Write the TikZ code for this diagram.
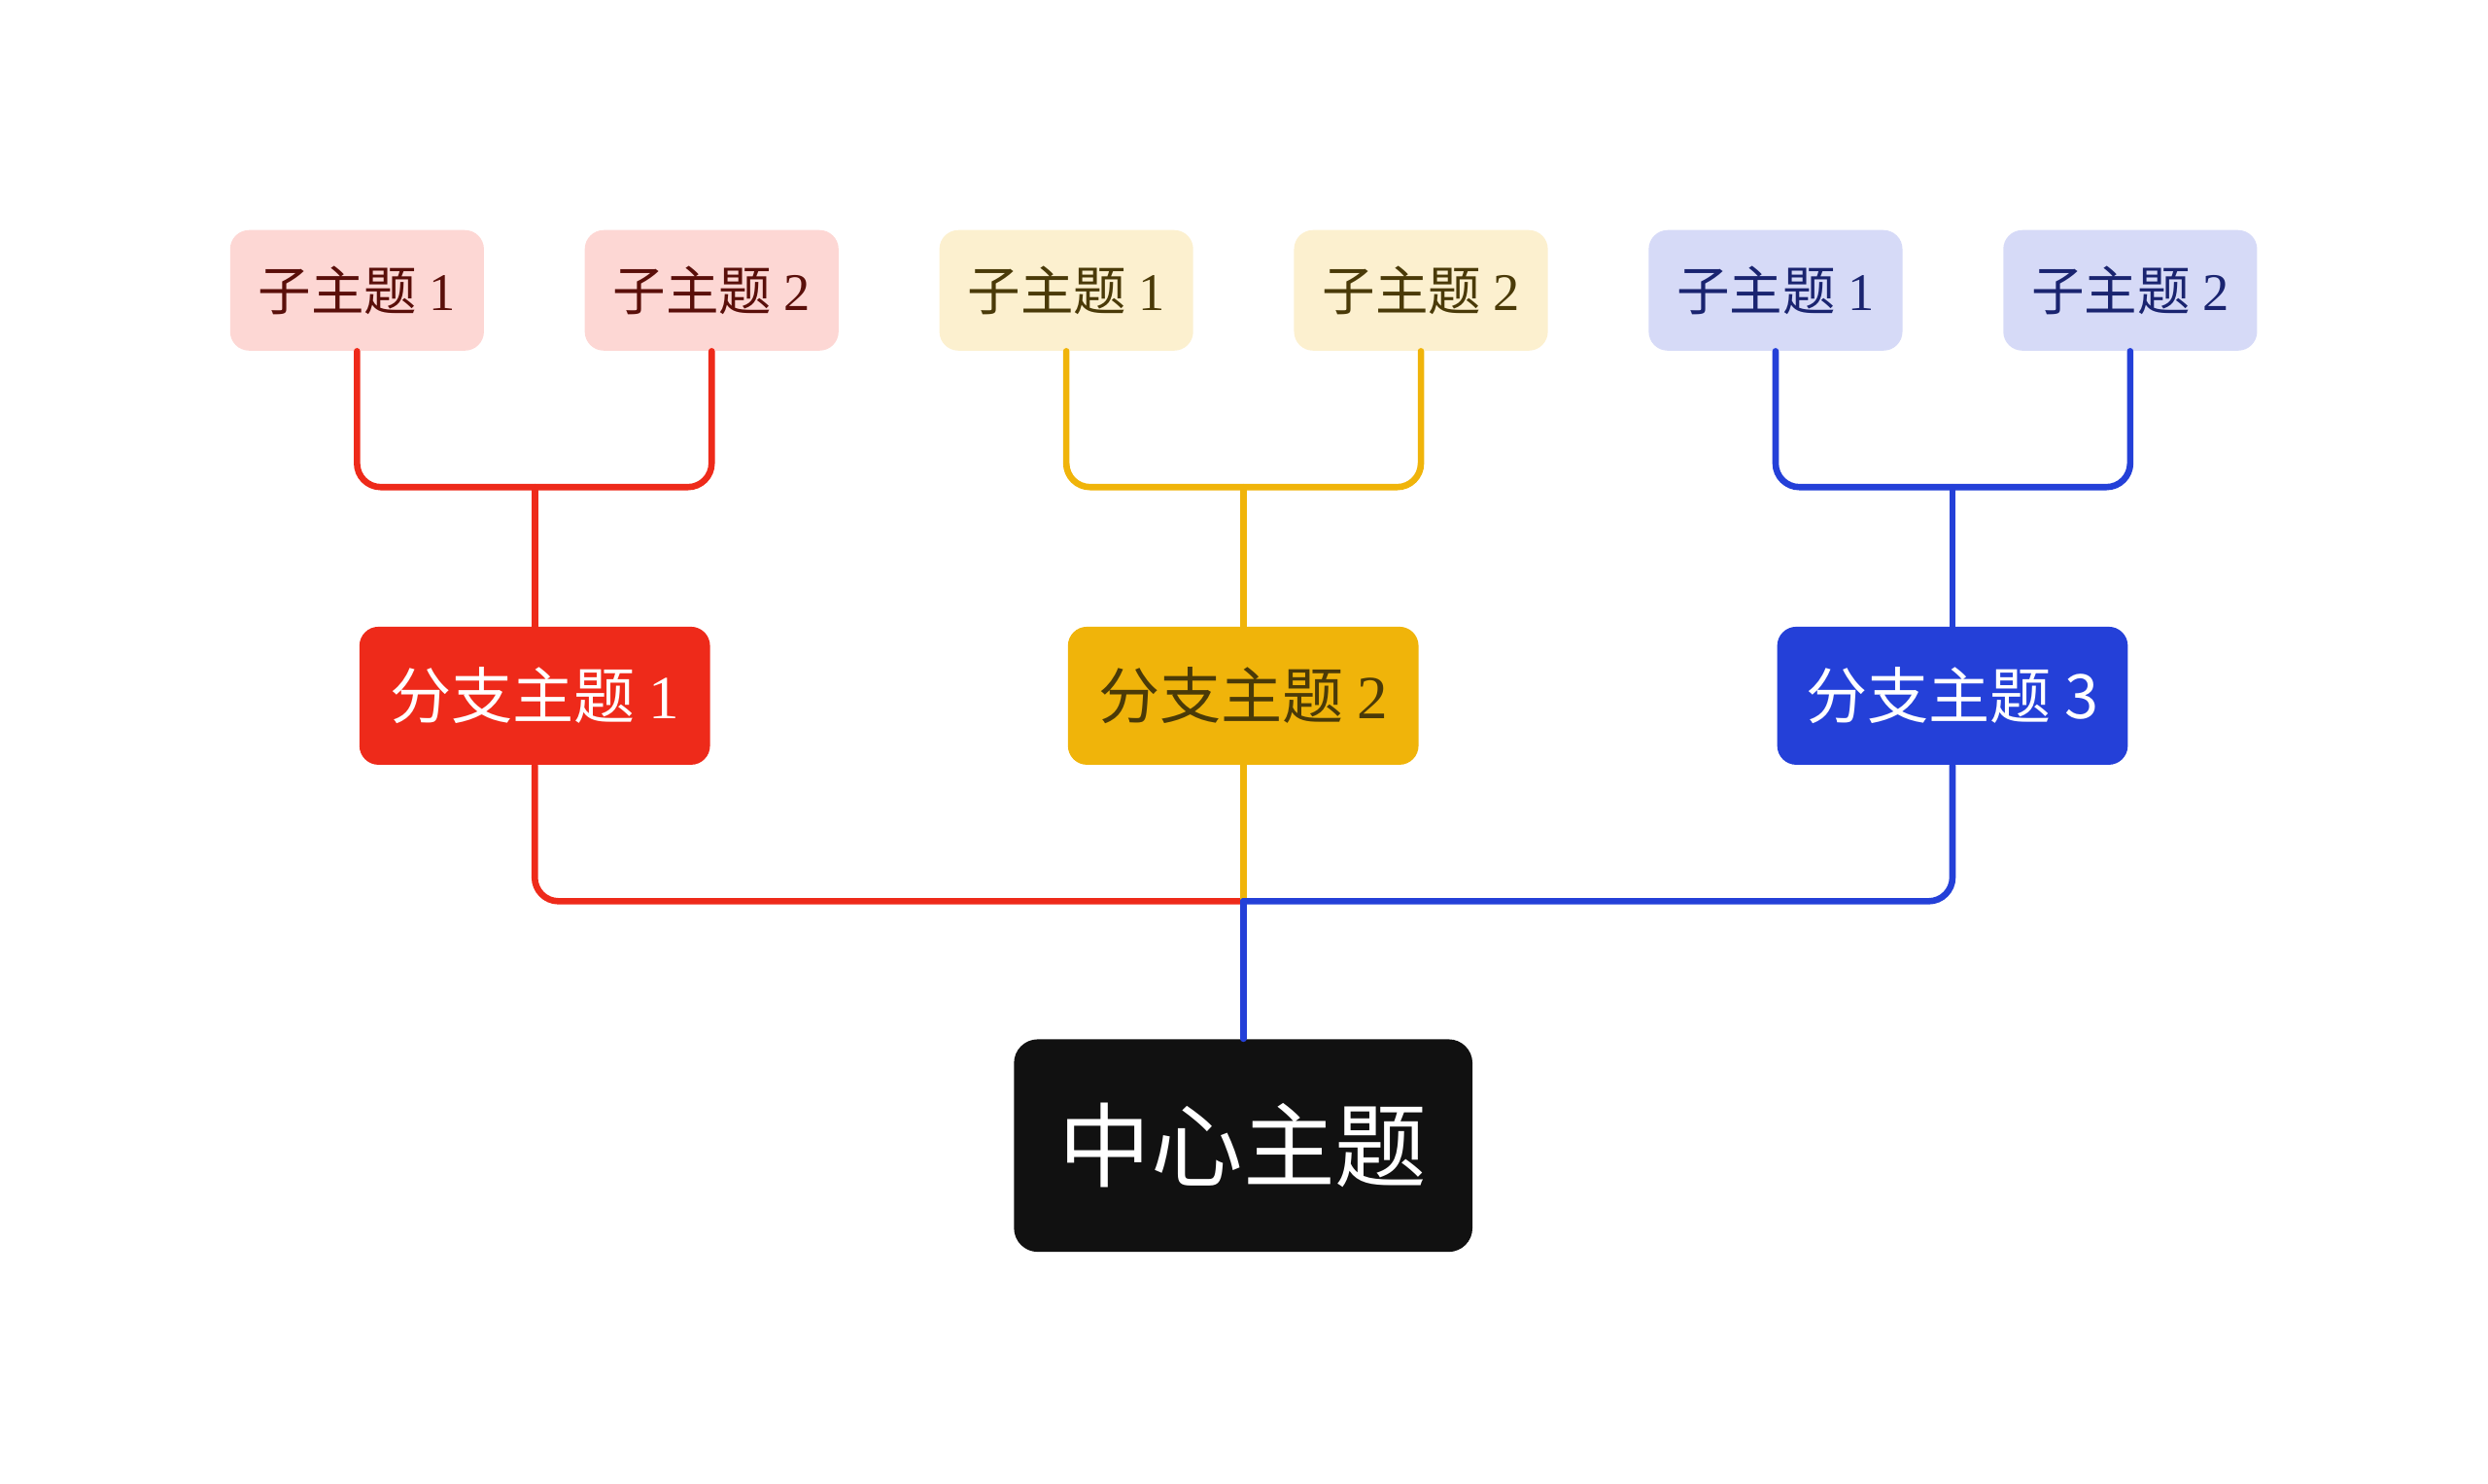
\documentclass[tikz,border=0pt]{standalone}
\usepackage{fontspec}
\usepackage{tikz}
\usetikzlibrary{positioning, calc}
\setmainfont{Noto Sans CJK SC}
\newfontfamily\cjk{Noto Sans CJK SC}
\newfontfamily\numfont{Liberation Serif}

\definecolor{redmain}{HTML}{EE2A1A}
\definecolor{redlight}{HTML}{FDD7D4}
\definecolor{redtext}{HTML}{5A0F0A}
\definecolor{yelmain}{HTML}{F0B40A}
\definecolor{yellight}{HTML}{FCF0CF}
\definecolor{yeltext}{HTML}{4A3A08}
\definecolor{blumain}{HTML}{2440D8}
\definecolor{blulight}{HTML}{D6DAF7}
\definecolor{blutext}{HTML}{1A2470}
\definecolor{centre}{HTML}{111111}

\tikzset{
  subbox/.style={rounded corners=0.24cm, minimum width=3.2cm, minimum height=1.52cm,
    inner sep=0pt, font=\fontsize{19pt}{21pt}\selectfont},
  branchbox/.style={rounded corners=0.24cm, minimum width=4.42cm, minimum height=1.74cm,
    inner sep=0pt, text=white, font=\fontsize{22pt}{24pt}\selectfont},
  centrebox/.style={rounded corners=0.3cm, fill=centre, minimum width=5.78cm,
    minimum height=2.68cm, inner sep=0pt, text=white, font=\fontsize{33pt}{35pt}\selectfont},
  link/.style={line width=2.3pt, rounded corners=0.3cm}
}

\begin{document}
\begin{tikzpicture}[x=0.02cm,y=-0.02cm,line cap=round]
  \useasboundingbox (0,0) rectangle (1568,935);

  % --- Centro ---
  \node[centrebox] (c) at (783.5,722) {中心主题};

  % --- Rami principali ---
  \node[branchbox, fill=redmain] (b1) at (337,438.5) {分支主题 {\numfont 1}};
  \node[branchbox, fill=yelmain, text=yeltext] (b2) at (783.5,438.5) {分支主题 {\numfont 2}};
  \node[branchbox, fill=blumain] (b3) at (1230.5,438.5) {分支主题 3};

  % --- Sottotemi ---
  \node[subbox, fill=redlight, text=redtext] (s11) at (225,183) {子主题 {\numfont 1}};
  \node[subbox, fill=redlight, text=redtext] (s12) at (448.5,183) {子主题 {\numfont 2}};
  \node[subbox, fill=yellight, text=yeltext] (s21) at (672,183) {子主题 {\numfont 1}};
  \node[subbox, fill=yellight, text=yeltext] (s22) at (895.5,183) {子主题 {\numfont 2}};
  \node[subbox, fill=blulight, text=blutext] (s31) at (1119,183) {子主题 {\numfont 1}};
  \node[subbox, fill=blulight, text=blutext] (s32) at (1342.5,183) {子主题 {\numfont 2}};

  % --- Giunzioni ---
  \coordinate (j1) at (337,307);
  \coordinate (j2) at (783.5,307);
  \coordinate (j3) at (1230.5,307);
  \coordinate (m) at (783.5,568);

  % --- Collegamenti sottotemi -> rami ---
  \draw[link, redmain] (s11.south) |- (j1) -| (s12.south);
  \draw[link, redmain] (j1) -- (b1.north);
  \draw[link, yelmain] (s21.south) |- (j2) -| (s22.south);
  \draw[link, yelmain] (j2) -- (b2.north);
  \draw[link, blumain] (s31.south) |- (j3) -| (s32.south);
  \draw[link, blumain] (j3) -- (b3.north);

  % --- Collegamenti rami -> centro ---
  \draw[link, redmain] (b1.south) |- (m);
  \draw[link, yelmain] (b2.south) -- (m);
  \draw[link, blumain] (b3.south) |- (m);
  \draw[link, blumain] (m) -- (c.north);
\end{tikzpicture}
\end{document}
